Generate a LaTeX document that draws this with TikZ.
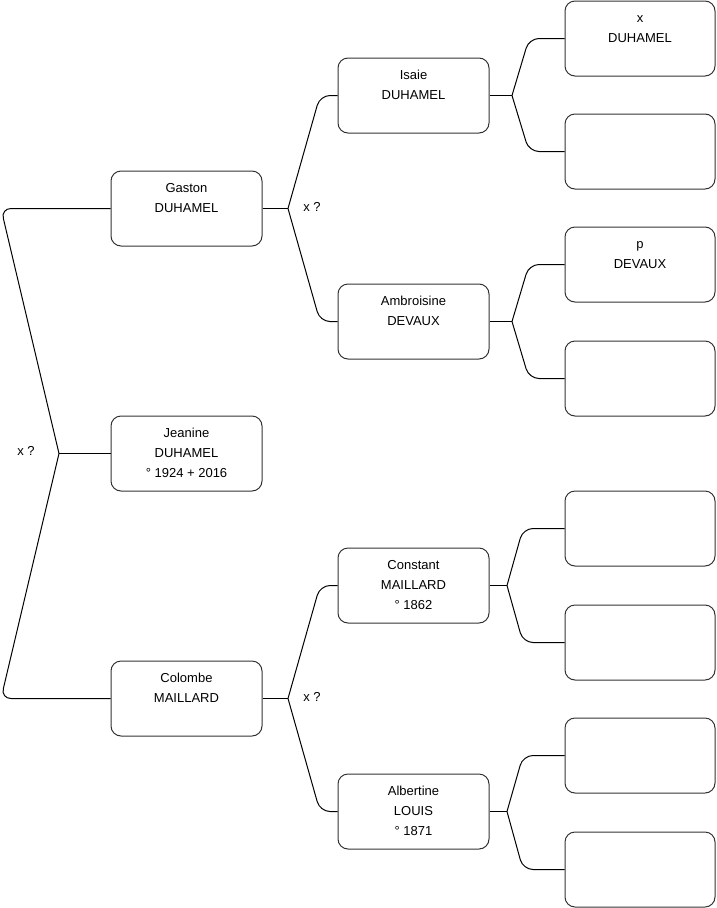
\documentclass[tikz,border=0pt]{standalone}
\usepackage{fontspec}
\setmainfont{Liberation Sans}
\begin{document}
\begin{tikzpicture}[x=1pt,y={(0pt,-1pt)},
  personbox/.style={draw=black!80, line width=1pt, rounded corners=10pt,
    minimum width=151pt, minimum height=75pt, inner sep=0pt, align=center,
    font=\fontsize{13}{20}\selectfont, text=black},
  leafbox/.style={personbox, minimum width=150pt},
  link/.style={draw=black, line width=1pt},
  elbowlink/.style={link, rounded corners=10pt},
  qlabel/.style={font=\fontsize{13}{16}\selectfont, inner sep=0pt}]
\useasboundingbox (0,0) rectangle (716,908);

% level 0 and 1
\node[personbox] (jeanine) at (186.5,453.5) {\strut Jeanine\\\strut DUHAMEL\\\strut ° 1924 + 2016};
\node[personbox] (gaston) at (186.5,208.5) {\strut Gaston\\\strut DUHAMEL\\\strut};
\node[personbox] (colombe) at (186.5,698.5) {\strut Colombe\\\strut MAILLARD\\\strut};

% level 2
\node[personbox] (isaie) at (413.5,95.5) {\strut Isaie\\\strut DUHAMEL\\\strut};
\node[personbox] (ambroisine) at (413.5,321.5) {\strut Ambroisine\\\strut DEVAUX\\\strut};
\node[personbox] (constant) at (413.5,585.5) {\strut Constant\\\strut MAILLARD\\\strut ° 1862};
\node[personbox] (albertine) at (413.5,811.5) {\strut Albertine\\\strut LOUIS\\\strut ° 1871};

% level 3
\node[leafbox] (l1) at (640,38.5) {\strut x\\\strut DUHAMEL\\\strut};
\node[leafbox] (l2) at (640,151.5) {};
\node[leafbox] (l3) at (640,264.5) {\strut p\\\strut DEVAUX\\\strut};
\node[leafbox] (l4) at (640,378.5) {};
\node[leafbox] (l5) at (640,528.5) {};
\node[leafbox] (l6) at (640,642.5) {};
\node[leafbox] (l7) at (640,755.5) {};
\node[leafbox] (l8) at (640,869.5) {};

% branch points
\coordinate (b0) at (59,453.5);
\coordinate (b1) at (288,208.5);
\coordinate (b2) at (288,698.5);
\coordinate (b3) at (512,95.5);
\coordinate (b4) at (512,321.5);
\coordinate (b5) at (507,585.5);
\coordinate (b6) at (507,811.5);

% labels
\node[qlabel] (q0) at (26,451) {x ?};
\node[qlabel] (q1) at (312,207) {x ?};
\node[qlabel] (q2) at (312,697) {x ?};

% connectors
\draw[link] (jeanine.west) -- (b0);
\draw[elbowlink] (b0) -- (1,208.5) -- (gaston.west);
\draw[elbowlink] (b0) -- (1,698.5) -- (colombe.west);

\draw[link] (gaston.east) -- (b1);
\draw[elbowlink] (b1) -- (320,95.5) -- (isaie.west);
\draw[elbowlink] (b1) -- (320,321.5) -- (ambroisine.west);

\draw[link] (colombe.east) -- (b2);
\draw[elbowlink] (b2) -- (320,585.5) -- (constant.west);
\draw[elbowlink] (b2) -- (320,811.5) -- (albertine.west);

\draw[link] (isaie.east) -- (b3);
\draw[elbowlink] (b3) -- (529,38.5) -- (l1.west);
\draw[elbowlink] (b3) -- (529,151.5) -- (l2.west);

\draw[link] (ambroisine.east) -- (b4);
\draw[elbowlink] (b4) -- (529,264.5) -- (l3.west);
\draw[elbowlink] (b4) -- (529,378.5) -- (l4.west);

\draw[link] (constant.east) -- (b5);
\draw[elbowlink] (b5) -- (523,528.5) -- (l5.west);
\draw[elbowlink] (b5) -- (523,642.5) -- (l6.west);

\draw[link] (albertine.east) -- (b6);
\draw[elbowlink] (b6) -- (523,755.5) -- (l7.west);
\draw[elbowlink] (b6) -- (523,869.5) -- (l8.west);
\end{tikzpicture}
\end{document}
